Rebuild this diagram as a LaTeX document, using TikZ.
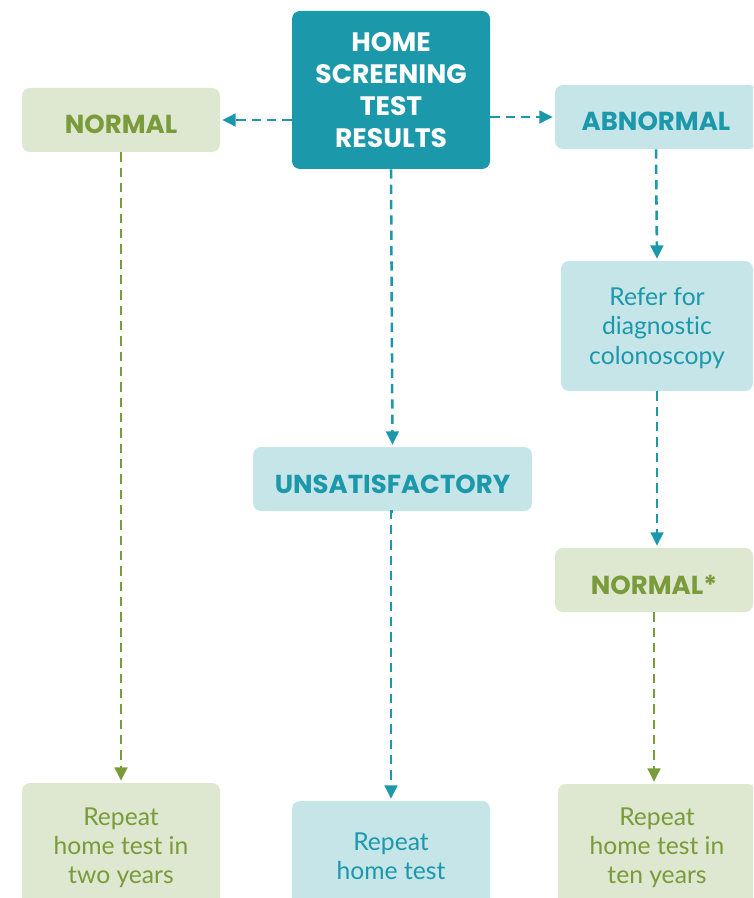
\documentclass[tikz,border=0pt]{standalone}
\usepackage{fontspec}
\setmainfont{Lato}[Ligatures=NoCommon]
\newfontfamily\headfont{Poppins}
\usetikzlibrary{arrows.meta}
\definecolor{teal}{HTML}{1C98AB}
\definecolor{tealpale}{HTML}{C6E5E9}
\definecolor{olive}{HTML}{7A9B3A}
\definecolor{olivepale}{HTML}{DEE7CF}
\tikzset{
    box/.style={rounded corners=6pt, align=center, inner sep=0pt},
    headbox/.style={box, fill=teal, text=white, font=\headfont\fontsize{20}{24}\selectfont\bfseries},
    greenbox/.style={box, fill=olivepale, text=olive},
    bluebox/.style={box, fill=tealpale, text=teal},
    title/.style={font=\headfont\fontsize{19.5}{22}\selectfont\bfseries, text height=21pt, text depth=0pt},
    body/.style={font=\fontsize{18.5}{21.8}\selectfont, text depth=0pt},
    flow/.style={line width=1.9pt, dash pattern=on 7pt off 4.5pt, -{Triangle[length=10pt,width=9.5pt]}, shorten >=1.5pt},
}
\begin{document}
\begin{tikzpicture}[x=0.75pt, y=-0.75pt]
    \useasboundingbox (0,0) rectangle (753,898);
    \clip (0,0) rectangle (753,898);
    % top row
    \node[headbox, minimum width=148.5pt, minimum height=118.5pt] (home) at (391, 90) {HOME\\SCREENING\\TEST\\RESULTS};
    \node[greenbox, title, minimum width=148.5pt, minimum height=48pt] (normal) at (121, 120) {NORMAL};
    \node[bluebox, title, minimum width=151.5pt, minimum height=48pt] (abnormal) at (656, 117) {ABNORMAL};
    % middle
    \node[bluebox, body, minimum width=144pt, minimum height=97.5pt] (refer) at (657, 326) {Refer for\\diagnostic\\colonoscopy};
    \node[bluebox, title, minimum width=209.25pt, minimum height=48pt] (unsat) at (392.5, 479) {UNSATISFACTORY};
    \node[greenbox, title, minimum width=148.5pt, minimum height=48pt] (normstar) at (654, 580) {NORMAL*};
    % bottom row
    \node[greenbox, body, minimum width=148.5pt, minimum height=94.5pt] (reptwo) at (121, 846) {Repeat\\home test in\\two years};
    \node[bluebox, body, minimum width=148.5pt, minimum height=82.5pt] (repagain) at (391, 856) {Repeat\\home test};
    \node[greenbox, body, minimum width=148.5pt, minimum height=93pt] (repten) at (657, 846) {Repeat\\home test in\\ten years};
    % connectors
    \draw[flow, teal] (home.west |- normal.east) -- (normal.east);
    \draw[flow, teal] (home.east |- abnormal.west) -- (abnormal.west);
    \draw[flow, teal] (home.south) -- (unsat.north);
    \draw[flow, olive] (normal.south) -- (reptwo.north);
    \draw[flow, teal] (abnormal.south) -- (refer.north);
    \draw[flow, teal] (refer.south) -- (refer.south |- normstar.north);
    \draw[flow, teal] (unsat.south) -- (unsat.south -| repagain.north) -- (repagain.north);
    \draw[flow, olive] (normstar.south) -- (normstar.south |- repten.north);
\end{tikzpicture}
\end{document}
